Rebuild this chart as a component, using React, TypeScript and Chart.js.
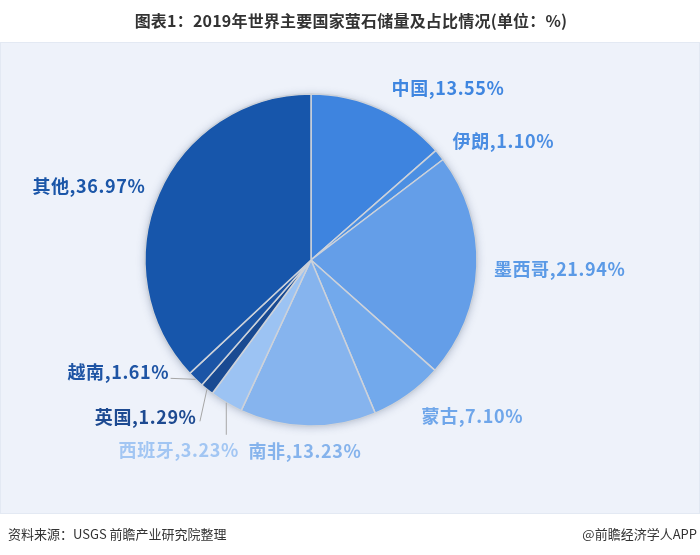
import React, { useEffect, useRef } from "react";
import { Chart, registerables } from "chart.js";

Chart.register(...registerables);

const categories = ["中国", "伊朗", "墨西哥", "蒙古", "南非", "西班牙", "英国", "越南", "其他"];
const shares = [13.55, 1.1, 21.94, 7.1, 13.23, 3.23, 1.29, 1.61, 36.97];
const valueLabels = ["13.55%", "1.10%", "21.94%", "7.10%", "13.23%", "3.23%", "1.29%", "1.61%", "36.97%"];
const sliceColors = ["#3e84df", "#4b8fe3", "#649ee8", "#72a9ec", "#86b4ee", "#9cc3f3", "#194a92", "#1b55a6", "#1756ab"];
const labelColors = ["#3f86e0", "#4a8de2", "#5b9ae6", "#6fa6ea", "#85b3ec", "#a2c6f3", "#1d4a91", "#1e54a4", "#1b56a8"];

const titleText = "图表1：2019年世界主要国家萤石储量及占比情况(单位：%)";
const sourceText = "资料来源：USGS 前瞻产业研究院整理";
const brandText = "@前瞻经济学人APP";

// label placement relative to the arc's outer mid point
const labelLayout = [
  { dx: 12, dy: -21, align: "left" },
  { dx: 13, dy: -14, align: "left" },
  { dx: 17, dy: 3, align: "left" },
  { dx: 14, dy: 21, align: "left" },
  { dx: -3, dy: 25, align: "center" },
  { dx: 12, dy: 47, align: "right", line: [0, 32] },
  { dx: -11, dy: 28, align: "right", line: [-7, 32] },
  { dx: -27, dy: -7, align: "right", line: [-25, -1] },
  { dx: -14, dy: -8, align: "right" },
];

const CJK = '"Noto Sans CJK SC", "Noto Sans", sans-serif';

const decorPlugin = {
  id: "decor",
  beforeDraw(chart: any) {
    const ctx = chart.ctx;
    const w = chart.width;
    const h = chart.height;
    ctx.save();
    ctx.fillStyle = "#ffffff";
    ctx.fillRect(0, 0, w, h);
    ctx.fillStyle = "#eef2fa";
    ctx.fillRect(0, 42, w, 472);
    ctx.strokeStyle = "#e3e9f3";
    ctx.lineWidth = 1;
    ctx.strokeRect(0.5, 42.5, w - 1, 471);
    // title
    ctx.fillStyle = "#333333";
    ctx.font = "bold 16px " + CJK;
    ctx.textAlign = "center";
    ctx.textBaseline = "middle";
    (ctx as any).letterSpacing = "0.2px";
    ctx.fillText(titleText, 351, 21);
    (ctx as any).letterSpacing = "0px";
    // footer
    ctx.font = "13px " + CJK;
    ctx.textAlign = "left";
    ctx.fillStyle = "#333333";
    ctx.fillText(sourceText, 8, 534);
    ctx.textAlign = "right";
    ctx.fillText(brandText, 697, 534);
    ctx.restore();
  },
  beforeDatasetsDraw(chart: any) {
    const meta = chart.getDatasetMeta(0);
    const arc = meta.data[0];
    if (!arc) return;
    const ctx = chart.ctx;
    ctx.save();
    ctx.shadowColor = "rgba(60,80,120,0.35)";
    ctx.shadowBlur = 8;
    ctx.shadowOffsetX = 0;
    ctx.shadowOffsetY = 1;
    ctx.fillStyle = "#cdd2da";
    ctx.beginPath();
    ctx.arc(arc.x, arc.y, arc.outerRadius, 0, Math.PI * 2);
    ctx.fill();
    ctx.restore();
  },
  afterDatasetsDraw(chart: any) {
    const meta = chart.getDatasetMeta(0);
    const ctx = chart.ctx;
    ctx.save();
    meta.data.forEach((arc: any, i: number) => {
      const mid = (arc.startAngle + arc.endAngle) / 2;
      const ex = arc.x + Math.cos(mid) * arc.outerRadius;
      const ey = arc.y + Math.sin(mid) * arc.outerRadius;
      const lay = labelLayout[i];
      if (lay.line) {
        ctx.strokeStyle = "#a6a6a6";
        ctx.lineWidth = 1;
        ctx.beginPath();
        ctx.moveTo(ex, ey);
        ctx.lineTo(ex + lay.line[0], ey + lay.line[1]);
        ctx.stroke();
      }
      ctx.fillStyle = labelColors[i];
      ctx.font = "bold 18px " + CJK;
      (ctx as any).letterSpacing = "0.6px";
      ctx.textAlign = lay.align as CanvasTextAlign;
      ctx.textBaseline = "middle";
      const shift = lay.align === "right" ? 0.6 : 0;
      ctx.fillText(categories[i] + "," + valueLabels[i], ex + lay.dx + shift, ey + lay.dy);
    });
    ctx.restore();
  },
};

export default function App() {
  const ref = useRef<HTMLCanvasElement | null>(null);
  useEffect(() => {
    document.body.style.margin = "0";
    const canvas = ref.current;
    if (!canvas) return;
    const chart = new Chart(canvas, {
      type: "pie",
      data: {
        labels: categories,
        datasets: [
          {
            data: shares,
            backgroundColor: sliceColors,
            borderColor: "#cdd2da",
            borderWidth: 1.5,
          },
        ],
      },
      options: {
        responsive: false,
        animation: false,
        radius: 166,
        layout: { padding: { left: 145, right: 223, top: 94, bottom: 129 } },
        plugins: {
          legend: { display: false },
          tooltip: { enabled: false },
          title: { display: false },
        },
      },
      plugins: [decorPlugin],
    } as any);
    return () => chart.destroy();
  }, []);
  return (
    <div style={{ width: 700, height: 555 }}>
      <canvas ref={ref} width={700} height={555} style={{ display: "block" }} />
    </div>
  );
}
